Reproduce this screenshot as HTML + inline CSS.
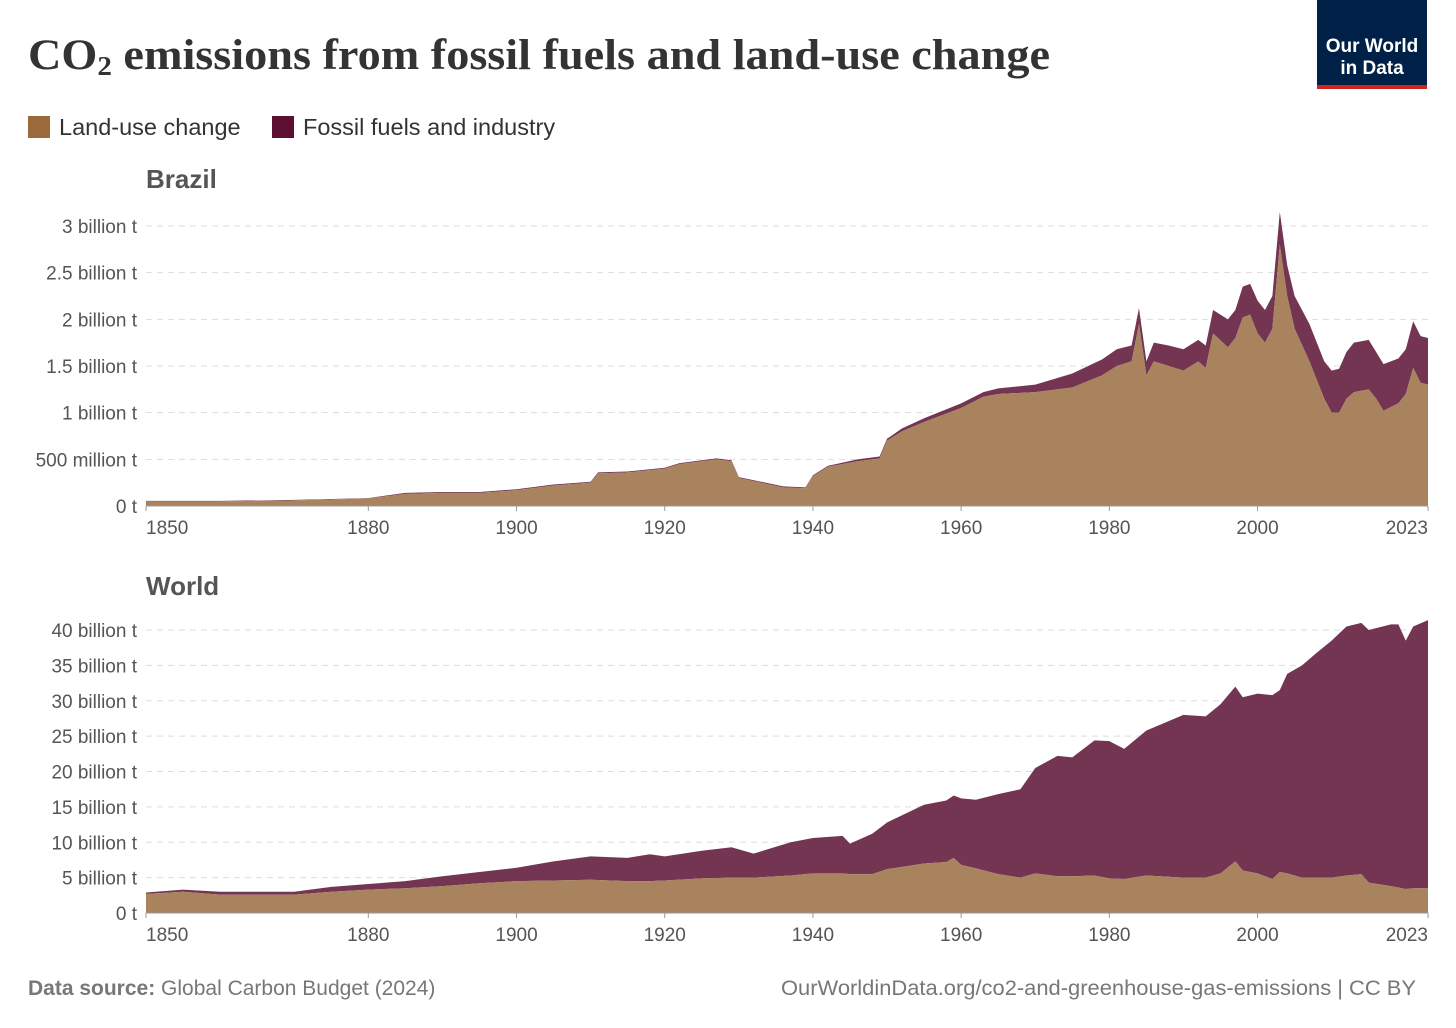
<!DOCTYPE html>
<html><head><meta charset="utf-8"><style>
body{margin:0;background:#fff;}
svg{display:block;font-family:"Liberation Sans",sans-serif;}
</style></head><body>
<svg width="1456" height="1028" viewBox="0 0 1456 1028">
<text x="28" y="69" font-family="Liberation Serif,serif" font-weight="bold" font-size="43" fill="#333" textLength="1022" lengthAdjust="spacingAndGlyphs">CO<tspan font-size="27" dy="6">2</tspan><tspan dy="-6"> emissions from fossil fuels and land-use change</tspan></text>
<g>
<rect x="1317" y="0" width="110" height="85" fill="#002147"/>
<rect x="1317" y="85" width="110" height="4" fill="#ce261e"/>
<text x="1372" y="52" text-anchor="middle" fill="#fff" font-size="19" font-weight="bold">Our World</text>
<text x="1372" y="74" text-anchor="middle" fill="#fff" font-size="19" font-weight="bold">in Data</text>
</g>
<g>
<rect x="28" y="116" width="22" height="22" fill="#9a6a3a"/>
<text x="59" y="135" font-size="23.5" fill="#333">Land-use change</text>
<rect x="272" y="116" width="22" height="22" fill="#5c0f30"/>
<text x="303" y="135" font-size="23.5" fill="#333">Fossil fuels and industry</text>
</g>
<text x="146" y="188" font-size="26" font-weight="bold" fill="#555">Brazil</text>
<text x="146" y="595" font-size="26" font-weight="bold" fill="#555">World</text>
<g id="brazil"></g>
<g id="world"></g>
<text x="28" y="995" font-size="21" fill="#777"><tspan font-weight="bold">Data source:</tspan> Global Carbon Budget (2024)</text>
<text x="1416" y="995" font-size="21" fill="#777" text-anchor="end" textLength="635" lengthAdjust="spacingAndGlyphs">OurWorldinData.org/co2-and-greenhouse-gas-emissions | CC BY</text>
</svg>
<script>
const brYears=[1850,1860,1870,1880,1885,1890,1895,1900,1905,1910,1911,1915,1920,1922,1927,1929,1930,1933,1936,1939,1940,1942,1946,1949,1950,1952,1955,1960,1963,1965,1970,1975,1979,1981,1983,1984,1985,1986,1988,1990,1992,1993,1994,1996,1997,1998,1999,2000,2001,2002,2003,2004,2005,2007,2009,2010,2011,2012,2013,2015,2016,2017,2019,2020,2021,2022,2023];
const brLand=[.05,.05,.06,.08,.13,.14,.14,.17,.22,.25,.35,.36,.40,.45,.50,.48,.30,.25,.20,.19,.32,.42,.48,.51,.70,.80,.90,1.05,1.17,1.20,1.22,1.27,1.40,1.50,1.55,1.95,1.40,1.55,1.50,1.45,1.55,1.48,1.85,1.70,1.80,2.02,2.05,1.85,1.75,1.90,2.80,2.25,1.90,1.55,1.15,1.00,1.00,1.15,1.22,1.25,1.15,1.02,1.10,1.20,1.48,1.32,1.30];
const brFossil=[.005,.005,.005,.005,.01,.01,.01,.01,.01,.01,.01,.01,.01,.01,.01,.01,.01,.01,.01,.01,.01,.01,.02,.02,.02,.03,.04,.05,.05,.06,.08,.15,.17,.18,.17,.17,.15,.20,.22,.23,.23,.24,.25,.30,.30,.33,.33,.35,.35,.35,.35,.33,.35,.40,.40,.45,.47,.50,.53,.53,.50,.50,.48,.48,.50,.50,.50];
const brTicks=[0,0.5,1,1.5,2,2.5,3];
const brTickLabels=["0 t","500 million t","1 billion t","1.5 billion t","2 billion t","2.5 billion t","3 billion t"];
const wYears=[1850,1855,1860,1870,1875,1880,1885,1890,1895,1900,1905,1910,1915,1918,1920,1925,1929,1932,1937,1940,1944,1945,1948,1950,1955,1958,1959,1960,1962,1965,1968,1970,1973,1975,1978,1980,1982,1985,1990,1993,1995,1997,1998,2000,2002,2003,2004,2006,2008,2010,2012,2014,2015,2018,2019,2020,2021,2023];
const wLand=[2.7,3.0,2.6,2.6,3.0,3.3,3.5,3.8,4.2,4.5,4.6,4.7,4.5,4.5,4.6,4.9,5.0,5.0,5.3,5.6,5.6,5.5,5.5,6.2,7.0,7.2,7.8,6.8,6.3,5.5,5.0,5.6,5.2,5.2,5.3,4.9,4.8,5.3,5.0,5.0,5.6,7.3,6.0,5.6,4.8,5.8,5.6,5.0,5.0,5.0,5.3,5.5,4.3,3.8,3.6,3.4,3.5,3.5];
const wFossil=[.2,.3,.4,.4,.7,.8,1.0,1.4,1.6,1.9,2.7,3.3,3.3,3.8,3.4,3.9,4.3,3.4,4.7,5.0,5.3,4.3,5.7,6.6,8.3,8.7,8.8,9.4,9.7,11.3,12.5,14.9,17.0,16.8,19.1,19.4,18.4,20.5,23.0,22.8,23.9,24.7,24.5,25.4,26.0,25.7,28.2,30.0,31.8,33.5,35.2,35.5,35.7,37.0,37.2,35.1,37.0,37.9];
const wTicks=[0,5,10,15,20,25,30,35,40];
const wTickLabels=["0 t","5 billion t","10 billion t","15 billion t","20 billion t","25 billion t","30 billion t","35 billion t","40 billion t"];
const xTicks=[1850,1880,1900,1920,1940,1960,1980,2000,2023];

const NS="http://www.w3.org/2000/svg";
const X0=146,X1=1428,Y0=1850,Y1=2023;
function xs(y){return X0+(y-Y0)/(Y1-Y0)*(X1-X0);}
function mk(tag,attrs,parent){const e=document.createElementNS(NS,tag);for(const k in attrs)e.setAttribute(k,attrs[k]);parent.appendChild(e);return e;}
function draw(gid,years,land,fossil,ticks,labels,base,pxPer,name){
  const g=document.getElementById(gid);
  const ys=v=>base-v*pxPer;
  ticks.forEach((t,i)=>{
    if(t>0){const l=mk('line',{x1:X0,x2:X1,y1:ys(t),y2:ys(t),stroke:'#ddd','stroke-dasharray':'6,5'},g);
    
    }
    const tx=mk('text',{x:137,y:ys(t)+7,'text-anchor':'end','font-size':19,fill:'#555'},g);
    tx.textContent=labels[i];
    
    
  });
  let top=years.map((y,i)=>xs(y)+','+ys(land[i]+fossil[i]));
  let mid=years.map((y,i)=>xs(y)+','+ys(land[i]));
  const fp=mk('polygon',{points:top.concat(mid.slice().reverse()).join(' '),fill:'#733552'},g);
  
  
  const lp=mk('polygon',{points:mid.concat([xs(years[years.length-1])+','+base,xs(years[0])+','+base]).join(' '),fill:'#a8835e'},g);
  
  
  const ax=mk('line',{x1:X0,x2:X1,y1:base,y2:base,stroke:'#999'},g);
  
  
  xTicks.forEach((t,i)=>{
    mk('line',{x1:xs(t),x2:xs(t),y1:base,y2:base+5,stroke:'#999'},g);
    const anchor=i==0?'start':(i==xTicks.length-1?'end':'middle');
    const tx=mk('text',{x:i==0?X0:xs(t),y:base+28,'text-anchor':anchor,'font-size':19,fill:'#555'},g);
    tx.textContent=t;
    
    
  });
}
draw('brazil',brYears,brLand,brFossil,brTicks,brTickLabels,506,93.33,'brazil');
draw('world',wYears,wLand,wFossil,wTicks,wTickLabels,913,7.075,'world');
</script>
</body></html>
